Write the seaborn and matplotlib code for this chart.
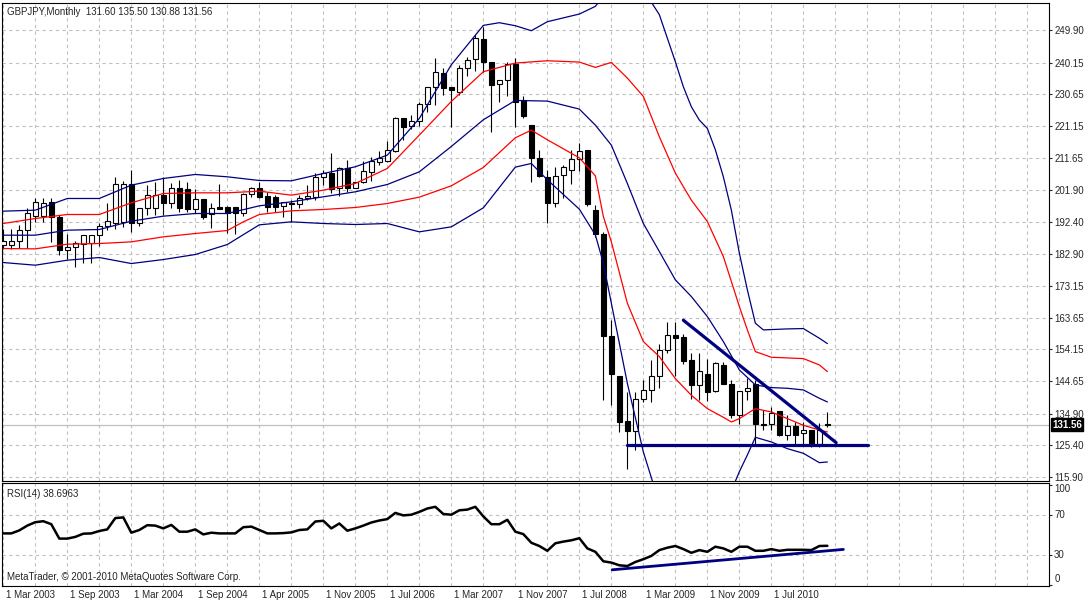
import numpy as np
import pandas as pd
import seaborn as sns
import matplotlib.pyplot as plt
from matplotlib.transforms import ScaledTranslation, blended_transform_factory

# GBPJPY monthly candles (bar 0 = 1 Mar 2003, bar 103 = last bar)
opens = [185.6, 185.4, 186.6, 190.1, 194.3, 194.3, 198.2, 193.9, 184.1, 185.0,
         185.9, 186.0, 188.5, 191.3, 192.2, 192.4, 203.7, 192.1, 196.4, 196.4,
         200.4, 197.9, 202.4, 202.1, 196.1, 199.1, 194.7, 196.7, 196.9, 196.7,
         194.9, 200.7, 202.4, 200.2, 199.9, 197.2, 198.1, 197.7, 199.4, 199.9,
         205.9, 206.9, 202.4, 208.4, 202.6, 204.2, 207.2, 210.4, 210.6, 213.6,
         223.4, 221.2, 222.7, 227.6, 232.9, 236.9, 232.9, 231.2, 238.6, 241.1,
         247.2, 240.2, 233.6, 234.9, 239.6, 228.9, 221.4, 211.4, 205.7, 197.9,
         206.4, 207.9, 211.1, 213.9, 195.9, 188.7, 158.2, 146.2, 132.6, 129.7,
         139.4, 142.1, 146.1, 154.1, 158.4, 157.9, 150.9, 143.4, 146.7, 141.6,
         149.4, 143.9, 134.4, 141.7, 143.7, 131.9, 131.9, 135.7, 128.4, 131.1,
         129.1, 129.9, 125.7, 131.60]
highs = [190.4, 190.2, 191.4, 196.4, 199.6, 199.4, 199.4, 194.4, 188.7, 186.7,
         188.6, 188.6, 192.1, 197.9, 205.9, 204.5, 207.9, 196.4, 203.4, 204.4,
         205.9, 203.9, 204.9, 204.4, 202.1, 199.1, 198.1, 203.7, 197.1, 196.7,
         201.1, 202.7, 204.4, 201.4, 200.4, 198.4, 198.9, 200.4, 203.4, 206.9,
         207.9, 213.1, 208.9, 210.9, 204.4, 210.6, 211.9, 213.6, 216.6, 223.9,
         223.6, 224.4, 228.4, 232.9, 241.4, 238.6, 232.9, 239.4, 241.9, 248.4,
         250.9, 240.2, 234.9, 240.4, 241.6, 230.1, 221.4, 213.9, 207.9, 208.7,
         209.4, 213.9, 216.1, 213.9, 197.4, 189.4, 163.1, 146.2, 141.4, 141.4,
         144.9, 151.1, 155.9, 162.4, 162.4, 158.9, 153.1, 153.1, 151.4, 150.4,
         150.4, 144.9, 141.7, 145.7, 144.9, 136.1, 136.9, 135.7, 134.4, 132.4,
         132.4, 129.9, 132.1, 135.50]
lows = [184.4, 184.4, 184.6, 184.7, 192.4, 192.4, 186.4, 182.4, 181.4, 178.9,
        180.1, 180.1, 185.2, 190.1, 190.4, 191.0, 189.4, 191.1, 194.4, 194.4,
        194.4, 196.4, 195.4, 195.4, 194.9, 193.4, 190.7, 196.1, 189.1, 188.9,
        194.1, 199.9, 199.4, 195.4, 195.2, 193.9, 192.4, 196.4, 198.9, 198.9,
        203.4, 200.9, 200.2, 201.4, 202.4, 203.9, 204.7, 209.4, 210.4, 213.4,
        216.9, 220.2, 221.2, 225.2, 227.4, 230.4, 220.9, 230.4, 236.2, 237.6,
        237.4, 219.2, 228.2, 230.2, 220.9, 223.4, 204.4, 205.7, 192.1, 196.7,
        199.4, 203.7, 207.7, 197.1, 187.9, 138.9, 137.4, 129.4, 118.4, 123.9,
        138.4, 138.4, 142.7, 153.1, 146.1, 149.7, 139.4, 139.1, 138.7, 141.4,
        143.9, 133.7, 131.7, 139.1, 125.9, 129.9, 129.9, 128.1, 126.9, 125.9,
        125.9, 124.9, 124.9, 130.88]
closes = [186.7, 186.6, 190.1, 194.9, 198.2, 197.9, 193.9, 184.1, 185.0, 186.1,
          188.6, 188.6, 191.3, 192.6, 203.7, 203.7, 192.2, 196.4, 200.4, 200.4,
          197.9, 202.4, 196.4, 196.1, 199.1, 193.9, 196.6, 196.1, 194.9, 194.9,
          200.7, 202.4, 199.7, 196.9, 196.9, 198.2, 197.6, 199.4, 200.1, 205.7,
          206.9, 202.2, 208.4, 202.6, 204.2, 207.6, 210.6, 211.4, 213.8, 223.4,
          220.9, 222.7, 227.6, 232.9, 237.2, 232.6, 231.9, 238.6, 240.9, 247.4,
          240.2, 233.4, 234.9, 239.6, 228.2, 224.2, 211.4, 206.1, 197.9, 206.2,
          208.9, 211.1, 213.7, 197.7, 188.7, 158.2, 146.7, 132.4, 129.7, 139.4,
          142.1, 146.1, 154.1, 158.4, 157.7, 150.7, 143.4, 147.7, 141.4, 150.2,
          143.9, 134.4, 141.7, 142.7, 131.9, 131.5, 135.1, 128.4, 131.1, 128.4,
          129.9, 125.7, 129.9, 131.56]

# band lines, read at selected bars (blue outer / red / blue middle / red / blue lower)
b1_bars = [0, 4, 8, 12, 16, 20, 24, 28, 32, 36, 40, 44, 48, 52, 56, 60, 62, 64, 66, 68,
           72, 74, 76, 80, 82, 84, 85, 86, 87, 88, 89, 90, 91, 92, 93, 94, 95, 98, 100,
           102, 103]
b1_vals = [195.6, 195.9, 199.4, 199.4, 203.4, 205.4, 206.6, 205.9, 204.8, 204.7, 206.9,
           208.9, 212.4, 223.4, 239.5, 251.3, 252.1, 251.2, 249.7, 252.4, 254.7, 257.0,
           263.0, 262.0, 254.5, 240.4, 232.9, 226.9, 222.9, 220.4, 214.0, 205.9, 195.9,
           183.0, 172.0, 162.0, 160.0, 160.3, 160.4, 157.5, 155.9]
r1_bars = [0, 4, 8, 12, 16, 20, 24, 28, 32, 36, 40, 44, 48, 52, 56, 60, 64, 68, 72, 74,
           76, 78, 80, 82, 84, 86, 88, 90, 92, 93, 94, 96, 100, 102, 103]
r1_vals = [191.9, 193.4, 194.6, 194.6, 198.1, 200.9, 201.1, 201.1, 201.6, 200.4, 201.9,
           203.9, 208.4, 218.4, 228.5, 237.4, 240.0, 240.7, 240.3, 238.7, 240.2, 235.5,
           230.0, 217.9, 207.0, 198.9, 192.5, 182.0, 167.0, 160.0, 153.5, 151.8, 151.4,
           149.5, 147.5]
b2_bars = [0, 4, 8, 12, 16, 20, 24, 28, 32, 36, 40, 44, 48, 52, 56, 60, 64, 68, 72, 74,
           76, 78, 80, 82, 84, 86, 88, 90, 92, 94, 96, 98, 100, 102, 103]
b2_vals = [188.4, 188.4, 189.9, 190.1, 192.6, 194.1, 194.9, 194.9, 197.2, 198.4, 199.9,
           201.4, 203.6, 207.4, 215.0, 223.0, 228.8, 228.6, 226.2, 221.4, 215.4, 203.9,
           191.9, 183.5, 175.0, 170.0, 164.0, 156.5, 148.0, 143.5, 142.7, 142.5, 142.0,
           139.5, 138.4]
r2_bars = [0, 4, 8, 12, 16, 20, 24, 28, 30, 32, 36, 40, 44, 48, 52, 56, 60, 64, 66, 68,
           72, 74, 75, 76, 78, 80, 82, 84, 86, 88, 90, 91, 92, 94, 96, 98, 100, 102, 103]
r2_vals = [184.4, 184.3, 185.7, 185.9, 186.4, 187.9, 188.9, 189.8, 192.4, 194.6, 195.7,
           196.1, 196.7, 197.9, 199.8, 203.2, 208.7, 217.6, 219.9, 217.0, 211.6, 206.2,
           194.0, 186.4, 168.0, 156.5, 152.0, 145.4, 140.4, 136.4, 133.8, 132.4, 133.4,
           136.4, 135.4, 133.4, 131.4, 130.0, 129.4]
b3_bars = [0, 4, 8, 12, 16, 20, 24, 28, 32, 36, 40, 44, 48, 52, 56, 60, 64, 66, 68, 72,
           74, 75, 76, 77, 78, 80, 82, 84, 88, 90, 92, 93, 94, 96, 98, 100, 102, 103]
b3_vals = [180.2, 179.4, 180.9, 181.7, 179.9, 181.1, 182.6, 185.6, 191.5, 192.4, 191.9,
           191.6, 191.9, 189.4, 190.9, 196.6, 208.8, 209.9, 205.0, 196.2, 188.5, 180.0,
           168.0, 156.0, 144.0, 123.4, 108.0, 100.0, 98.0, 106.0, 117.5, 122.5, 127.8,
           126.4, 124.4, 123.0, 120.2, 120.4]

# hand-drawn trend lines
trend_bars = [85.0, 104.1]
trend_prices = [162.9, 126.2]
support_bars = [78.0, 108.1]
support_prices = [125.6, 125.6]
current_price = 131.56

# RSI(14), one value per bar
rsi = [51.1, 51.1, 54.1, 58.9, 62.3, 63.3, 60.3, 45.9, 45.9, 47.6,
       50.8, 51.1, 53.5, 55.1, 66.4, 67.1, 51.8, 54.5, 59.3, 58.9,
       56.1, 59.6, 52.8, 52.8, 55.1, 50.1, 51.8, 51.1, 51.1, 51.1,
       57.3, 57.9, 54.5, 51.1, 51.1, 51.4, 52.1, 54.5, 55.1, 63.0,
       63.7, 56.1, 61.0, 53.8, 56.1, 58.9, 62.0, 64.0, 65.4, 71.6,
       69.1, 69.8, 72.6, 76.0, 77.7, 70.5, 69.8, 74.2, 74.9, 77.7,
       68.1, 60.3, 60.3, 64.7, 52.8, 50.4, 41.7, 38.5, 33.7, 41.2,
       42.9, 44.2, 46.3, 36.1, 32.7, 23.2, 21.9, 19.2, 18.5, 22.5,
       25.3, 28.6, 34.4, 36.8, 38.5, 35.4, 31.7, 34.4, 32.7, 37.8,
       36.1, 32.7, 37.8, 37.8, 33.7, 33.7, 35.4, 33.7, 34.7, 34.7,
       34.7, 34.4, 38.5, 38.7]
rsi_trend_bars = [76.1, 105.0]
rsi_trend_vals = [14.7, 35.1]

price_ticks = [249.90, 240.15, 230.65, 221.15, 211.65, 201.90, 192.40, 182.90,
               173.15, 163.65, 154.15, 144.65, 134.90, 125.40, 115.90]
date_bars = [0, 8, 16, 24, 32, 40, 48, 56, 64, 72, 80, 88, 96]
date_labels = ["1 Mar 2003", "1 Sep 2003", "1 Mar 2004", "1 Sep 2004", "1 Apr 2005",
               "1 Nov 2005", "1 Jul 2006", "1 Mar 2007", "1 Nov 2007", "1 Jul 2008",
               "1 Mar 2009", "1 Nov 2009", "1 Jul 2010"]

NAVY = "#000080"
RED = "#ff0000"
GRID = "#c0c0c0"

sns.set_style("white")
plt.rcParams['font.family'] = ['Liberation Sans', 'DejaVu Sans']
plt.rcParams['font.size'] = 7

W, H = 1087, 600
fig = plt.figure(figsize=(W / 100, H / 100), dpi=100)


def px_box(x0, y0, x1, y1):
    # axes rect from pixel corners (origin top-left)
    return [x0 / W, 1 - y1 / H, (x1 - x0) / W, (y1 - y0) / H]


ax = fig.add_axes(px_box(2, 2.7, 1049, 481))
rax = fig.add_axes(px_box(2, 482.5, 1049, 586))

# grid
grid_kw = dict(color=GRID, lw=0.8, ls=(0, (3, 3)), zorder=0)
for b in range(0, 131, 4):
    ax.axvline(b, **grid_kw)
    rax.axvline(b, **grid_kw)
for p in price_ticks:
    ax.axhline(p, **grid_kw)
for r in (70, 30):
    rax.axhline(r, **grid_kw)

ax.axhline(current_price, color=GRID, lw=0.9, zorder=1)

# candles
df = pd.DataFrame({"bar": np.arange(len(opens)), "open": opens, "high": highs,
                   "low": lows, "close": closes})
up = df["close"] >= df["open"]
ax.vlines(df["bar"], df["low"], df["high"], color="black", lw=0.8, zorder=3)
body_lo = df[["open", "close"]].min(axis=1)
body_h = (df["close"] - df["open"]).abs().clip(lower=0.3)
ax.bar(df["bar"], body_h, bottom=body_lo, width=0.6,
       color=np.where(up, "white", "black"), edgecolor="black", linewidth=0.8, zorder=4)

# bands
for xs, ys, col in [(b1_bars, b1_vals, NAVY), (r1_bars, r1_vals, RED),
                    (b2_bars, b2_vals, NAVY), (r2_bars, r2_vals, RED),
                    (b3_bars, b3_vals, NAVY)]:
    sns.lineplot(x=xs, y=ys, ax=ax, color=col, lw=0.9, zorder=5)

# trend lines
sns.lineplot(x=trend_bars, y=trend_prices, ax=ax, color=NAVY, lw=2.3, zorder=6)
sns.lineplot(x=support_bars, y=support_prices, ax=ax, color=NAVY, lw=2.3, zorder=6)

ax.set_xlim(-0.16, 130.7)
ax.set_ylim(114.7, 258.1)
ax.set_xlabel("")
ax.set_ylabel("")
ax.set_xticks([])
ax.yaxis.tick_right()
ax.set_yticks(price_ticks)
ax.set_yticklabels([f"{p:.2f}" for p in price_ticks])
ax.tick_params(axis="y", direction="out", length=2.2, width=0.8, pad=1.5, labelsize=7)

# current price box
box_tr = blended_transform_factory(ax.transAxes, ax.transData) + \
    ScaledTranslation(3 / 100, 0, fig.dpi_scale_trans)
ax.text(1.0, current_price, f"{current_price:.2f}", transform=box_tr, ha="left",
        va="center", color="white", fontsize=7, fontweight="bold",
        bbox=dict(facecolor="black", edgecolor="black", boxstyle="square,pad=0.15"))

# RSI panel
sns.lineplot(x=df["bar"], y=rsi, ax=rax, color="black", lw=1.8, zorder=4)
sns.lineplot(x=rsi_trend_bars, y=rsi_trend_vals, ax=rax, color=NAVY, lw=2.0, zorder=5)
rax.set_xlim(-0.16, 130.7)
rax.set_ylim(-1.5, 102)
rax.set_xlabel("")
rax.set_ylabel("")
rax.yaxis.tick_right()
rax.set_yticks([100, 70, 30, 0])
rax.set_yticklabels(["100", "70", "30", "0"])
rax.tick_params(axis="y", direction="out", length=2.2, width=0.8, pad=1.5, labelsize=7)
ylabs = rax.get_yticklabels()
ylabs[0].set_va("top")
ylabs[-1].set_va("bottom")
rax.set_xticks(date_bars)
rax.set_xticklabels([""] * len(date_bars))
rax.tick_params(axis="x", direction="out", length=3, width=0.8)

date_tr = blended_transform_factory(rax.transData, rax.transAxes) + \
    ScaledTranslation(3 / 100, -12 / 100, fig.dpi_scale_trans)
for b, lab in zip(date_bars, date_labels):
    rax.text(b, 0, lab, transform=date_tr, ha="left", va="baseline", fontsize=7)

for a in (ax, rax):
    for s in a.spines.values():
        s.set_color("black")
        s.set_linewidth(0.8)

# texts
fig.text(7 / W, 1 - 15 / H, "GBPJPY,Monthly  131.60 135.50 130.88 131.56",
         ha="left", va="baseline", fontsize=7)
fig.text(7 / W, 1 - 497 / H, "RSI(14) 38.6963", ha="left", va="baseline", fontsize=7)
fig.text(7 / W, 1 - 580 / H, "MetaTrader, \u00a9 2001-2010 MetaQuotes Software Corp.",
         ha="left", va="baseline", fontsize=7)

fig.savefig("out.png", dpi=100)
